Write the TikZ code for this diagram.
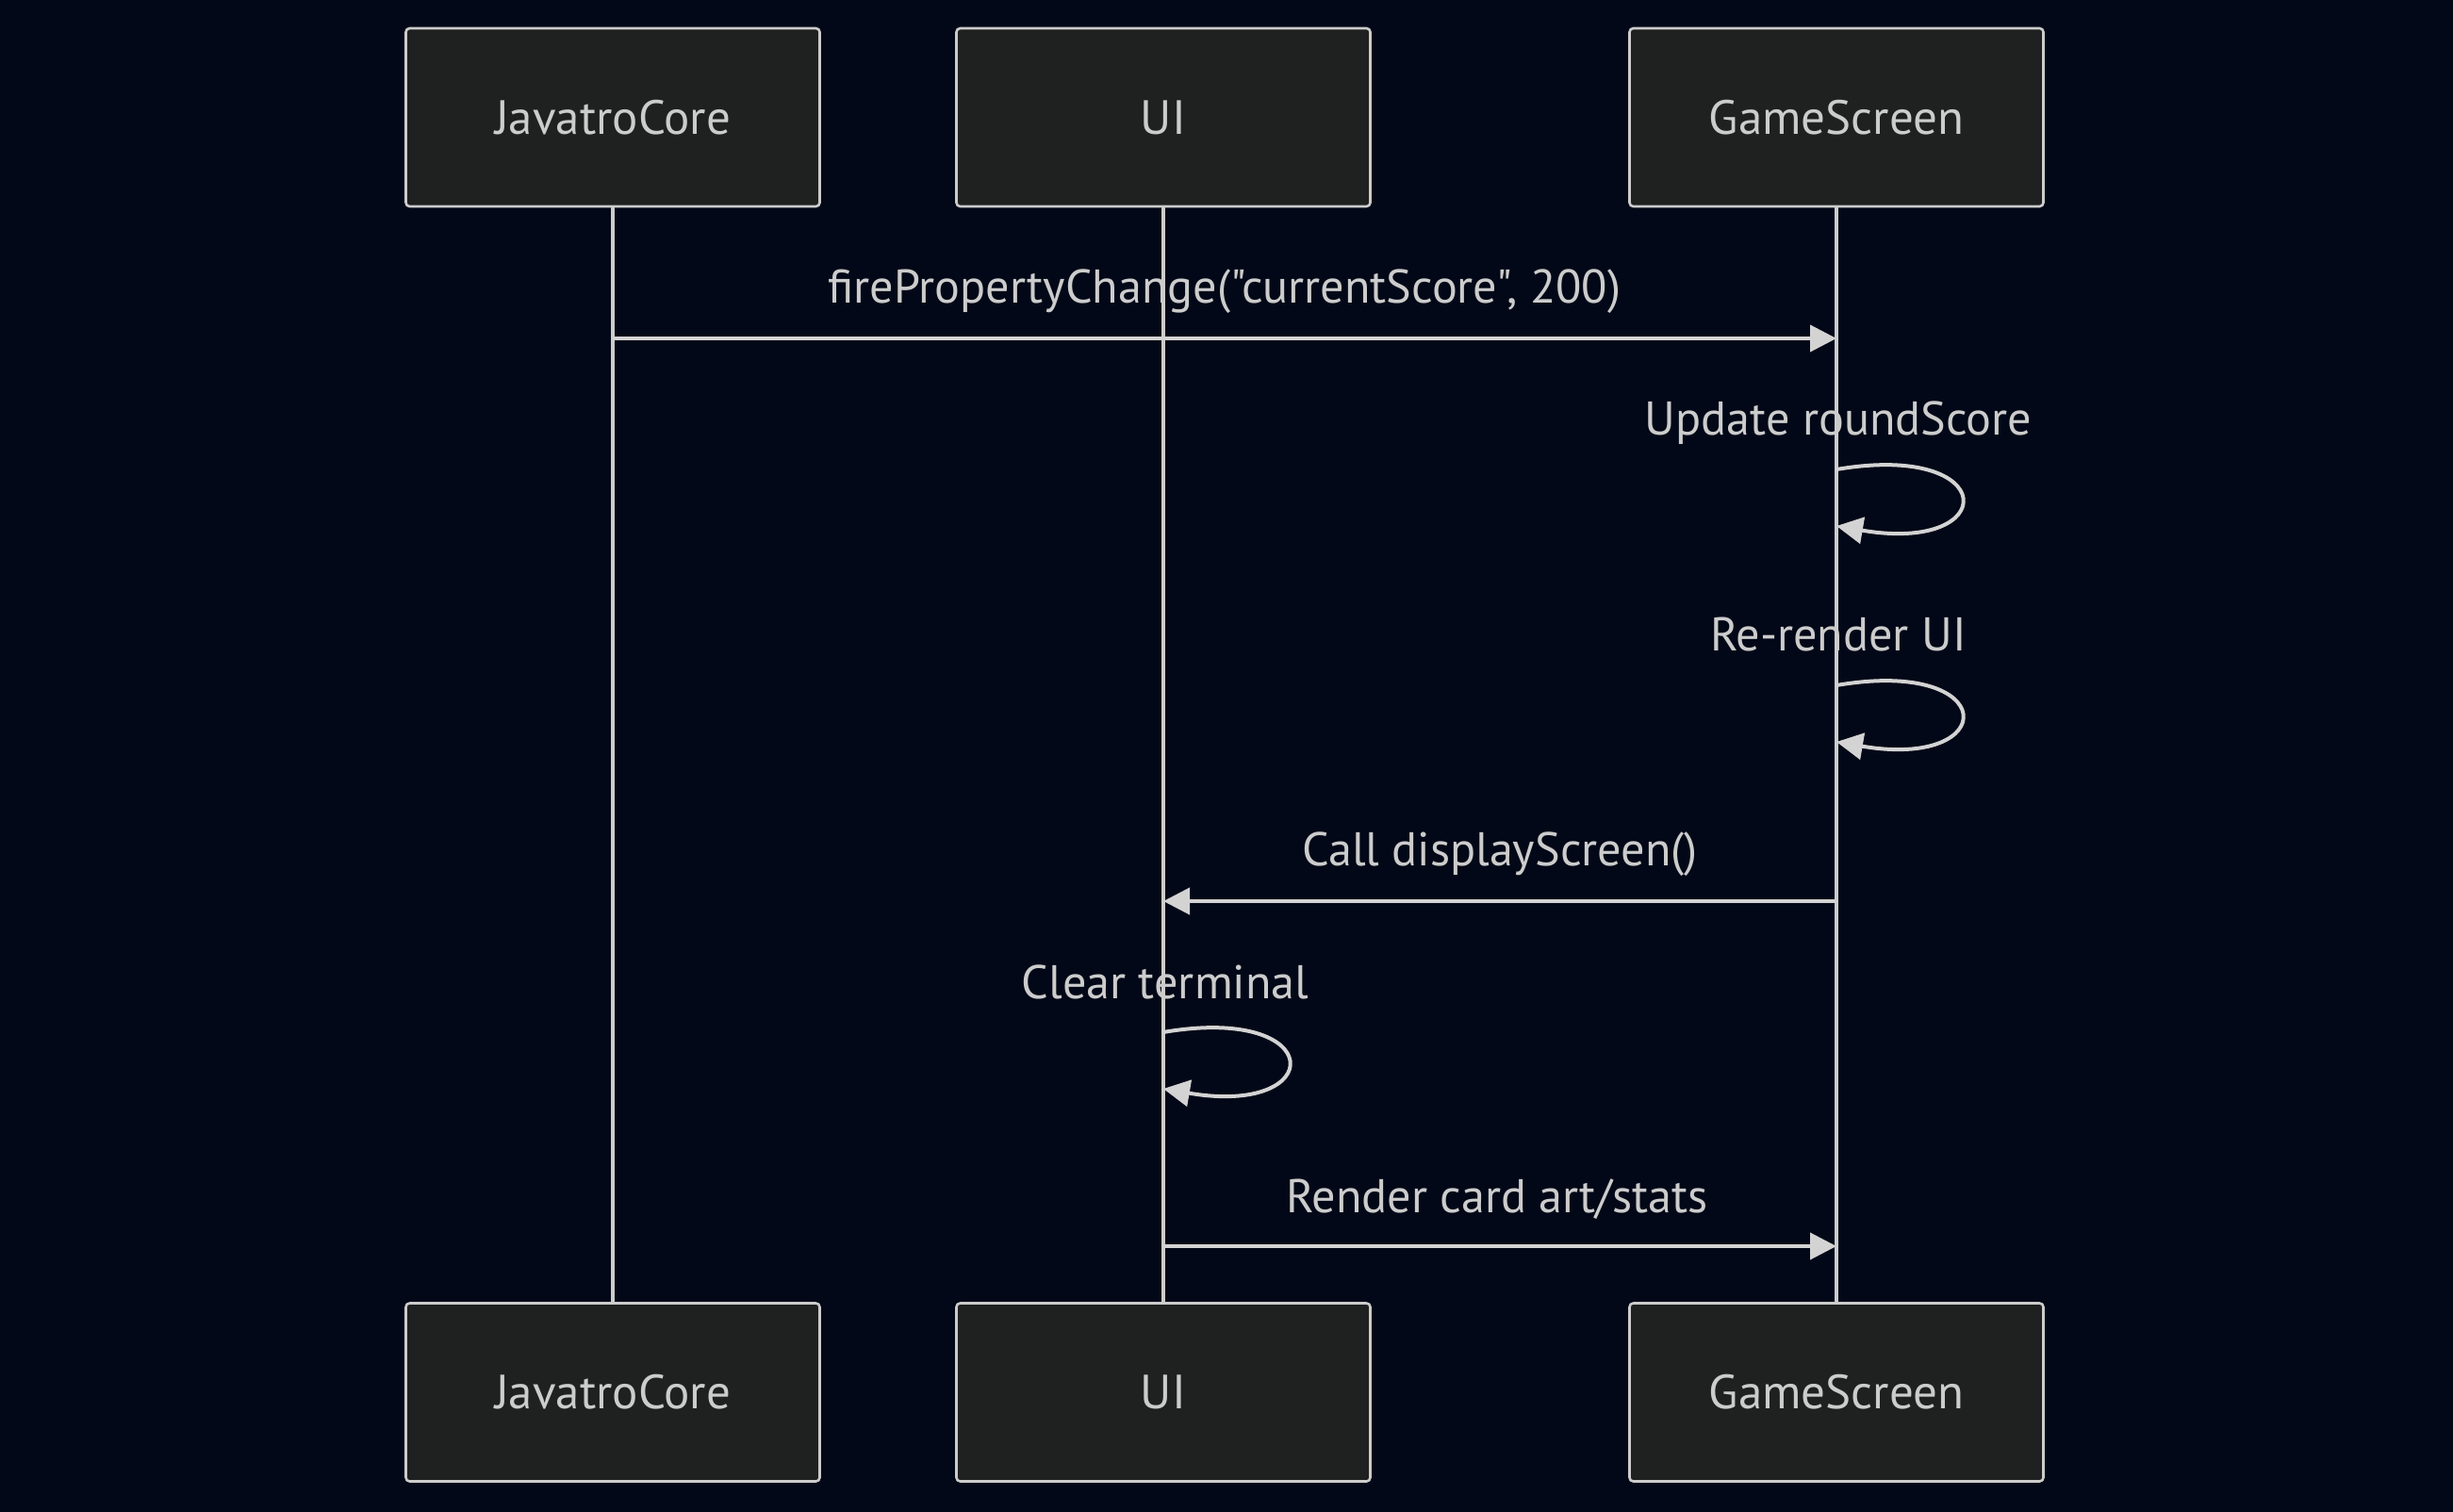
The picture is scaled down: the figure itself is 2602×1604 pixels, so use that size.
\documentclass[tikz,border=0pt]{standalone}
\usepackage{fontspec}
\setmainfont{PT Sans}[Ligatures=TeXOff]
\usetikzlibrary{arrows.meta}
\definecolor{bgnavy}{RGB}{2,8,23}
\definecolor{boxfill}{RGB}{31,32,32}
\definecolor{linegray}{RGB}{204,204,204}
\definecolor{arrowgray}{RGB}{211,211,211}

\begin{document}
\begin{tikzpicture}[x=0.5pt,y=-0.5pt,line join=round,
  actor/.style={draw=linegray,line width=1.3pt,fill=boxfill,rounded corners=2pt,
    minimum width=219.5pt,minimum height=94.5pt,inner sep=0pt,
    text=linegray,font=\fontsize{25.5}{30}\selectfont},
  lifeline/.style={draw=linegray,line width=2.4pt},
  msg/.style={draw=arrowgray,line width=2pt,-{Triangle[length=14pt,width=14pt]}},
  msglabel/.style={text=linegray,anchor=base,inner sep=0pt,font=\fontsize{25.1}{30}\selectfont}]
\fill[bgnavy] (0,0) rectangle (2602,1604);
\useasboundingbox (0,0) rectangle (2602,1604);
% actors
\node[actor] (coreTop) at (650,124.5) {JavatroCore};
\node[actor] (uiTop) at (1234,124.5) {UI};
\node[actor] (screenTop) at (1948,124.5) {GameScreen};
\node[actor] (coreBot) at (650,1477) {JavatroCore};
\node[actor] (uiBot) at (1234,1477) {UI};
\node[actor] (screenBot) at (1948,1477) {GameScreen};
% lifelines
\draw[lifeline] (coreTop.south) -- (coreBot.north);
\draw[lifeline] (uiTop.south) -- (uiBot.north);
\draw[lifeline] (screenTop.south) -- (screenBot.north);
% message end points
\coordinate (fireA) at (650,359);
\coordinate (fireB) at (1948,359);
\coordinate (roundA) at (1948,498);
\coordinate (roundB) at (1948,558);
\coordinate (renderA) at (1948,727);
\coordinate (renderB) at (1948,787);
\coordinate (callA) at (1948,956);
\coordinate (callB) at (1234,956);
\coordinate (clearA) at (1234,1095);
\coordinate (clearB) at (1234,1155);
\coordinate (cardA) at (1234,1322);
\coordinate (cardB) at (1948,1322);
% messages
\draw[msg] (fireA) -- (fireB);
\node[msglabel] (fireLbl) at (1299,322) {firePropertyChange("currentScore", 200)};
\draw[msg] (roundA) .. controls +(175,-30) and +(175,30) .. (roundB);
\node[msglabel] (roundLbl) at (1950,462) {Update roundScore};
\draw[msg] (renderA) .. controls +(175,-30) and +(175,30) .. (renderB);
\node[msglabel] (renderLbl) at (1950,690) {Re-render UI};
\draw[msg] (callA) -- (callB);
\node[msglabel] (callLbl) at (1591,918) {Call displayScreen()};
\draw[msg] (clearA) .. controls +(175,-30) and +(175,30) .. (clearB);
\node[msglabel] (clearLbl) at (1236,1059) {Clear terminal};
\draw[msg] (cardA) -- (cardB);
\node[msglabel] (cardLbl) at (1588,1286) {Render card art/stats};
\end{tikzpicture}
\end{document}
